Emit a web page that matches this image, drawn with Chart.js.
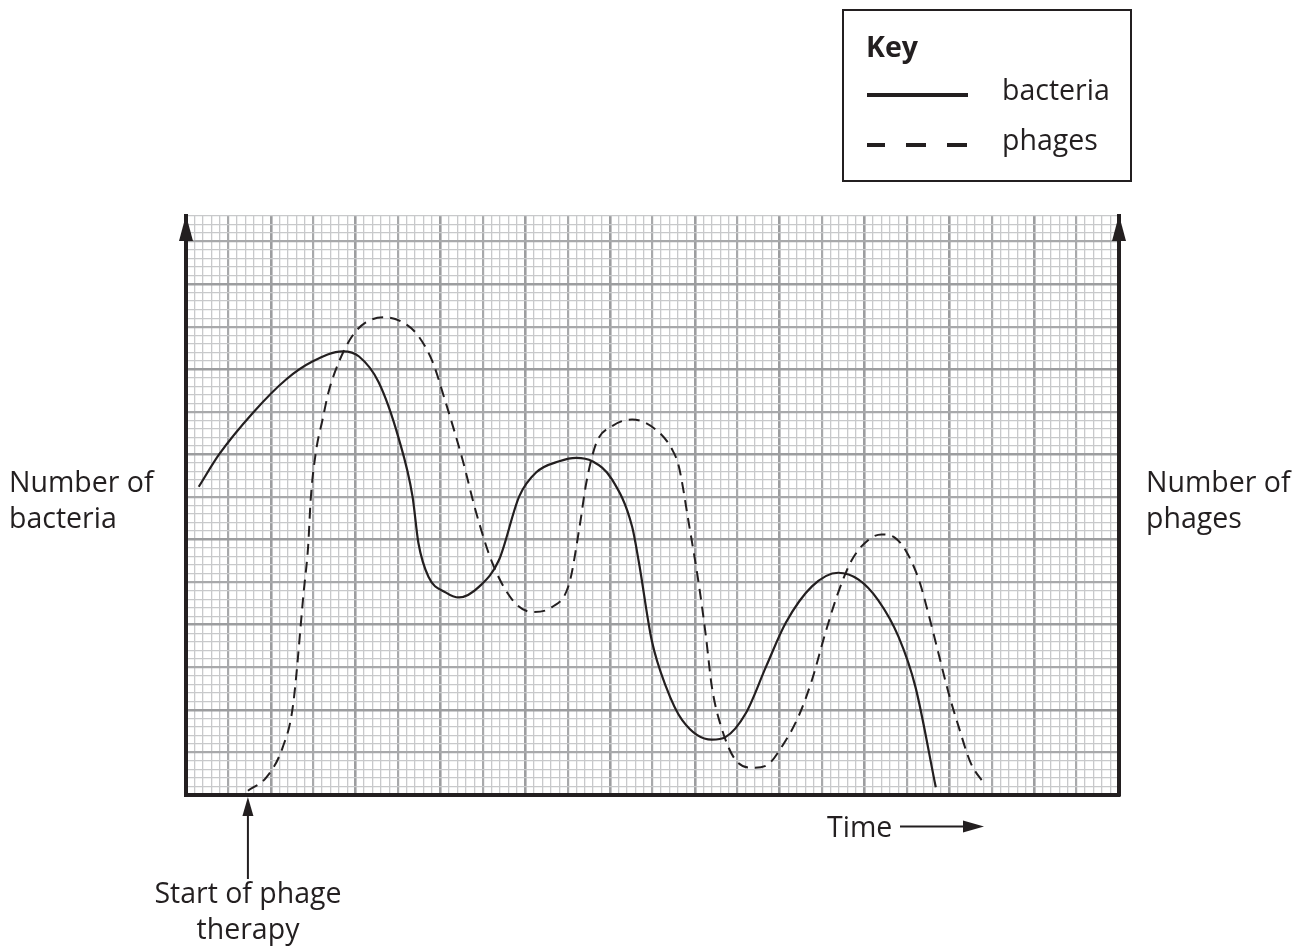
<!DOCTYPE html>
<html>
<head>
<meta charset="utf-8">
<script src="https://cdn.jsdelivr.net/npm/chart.js@4.4.0/dist/chart.umd.min.js"></script>
<style>
  body { margin: 0; background: #fff; }
  #page { position: relative; width: 1294px; height: 948px; font-family: "Open Sans", sans-serif; color: #231f20; }
  .lbl { position: absolute; font-size: 28.5px; line-height: 36px; white-space: nowrap; }
  #key { position: absolute; left: 842px; top: 9px; width: 286px; height: 169px; border: 2px solid #231f20; }
  .sample { position: absolute; height: 4px; background: #231f20; }
</style>
</head>
<body>
<div id="page">
  <canvas id="phageChart" width="1294" height="948"></canvas>

  <div class="lbl" style="left:9px; top:463px;">Number of<br>bacteria</div>
  <div class="lbl" style="left:1146px; top:463px;">Number of<br>phages</div>
  <div class="lbl" style="left:827px; top:808px;">Time</div>
  <div class="lbl" style="left:128px; top:874px; width:240px; text-align:center;">Start of phage<br>therapy</div>

  <div id="key">
    <div class="lbl" style="left:22px; top:17px; font-weight:bold;">Key</div>
    <div class="sample" style="left:23px; top:82px; width:101px;"></div>
    <div class="lbl" style="left:158px; top:60px;">bacteria</div>
    <div class="sample" style="left:23px; top:132px; width:18px;"></div>
    <div class="sample" style="left:62px; top:132px; width:20px;"></div>
    <div class="sample" style="left:103px; top:132px; width:20px;"></div>
    <div class="lbl" style="left:158px; top:110px;">phages</div>
  </div>
</div>

<script>
  // Values (1 unit = one small square)
  const timeBacteria = [1.5, 3.9, 7.9, 11.8, 14.9, 18.5, 20.4, 22.7, 25.1, 26.7, 27.4, 28.6, 30.6, 32.2, 34.6, 36.9, 39.3, 41.3, 44.0, 46.0, 47.9, 50.2, 52.6, 53.4, 54.9, 56.6, 58.5, 62.0, 63.6, 66.0, 68.4, 70.7, 73.8, 76.9, 79.3, 81.6, 84.0, 86.0, 88.4];
  const bacteria = [36.2, 40.0, 44.9, 48.8, 50.9, 52.1, 51.5, 48.5, 41.8, 35.1, 29.6, 25.6, 23.8, 23.2, 24.5, 27.6, 35.1, 37.9, 39.2, 39.6, 39.2, 37.1, 31.5, 27.3, 18.2, 12.7, 8.8, 6.5, 6.8, 9.6, 15.1, 20.2, 24.5, 26.1, 25.3, 22.9, 18.6, 12.7, 0.9];

  const timePhages = [7.3, 9.5, 11.4, 12.6, 13.9, 14.4, 14.7, 15.3, 16.1, 16.8, 18.0, 19.6, 21.2, 23.5, 25.9, 27.4, 29.1, 30.4, 32.6, 34.2, 36.1, 38.5, 40.8, 43.2, 45.2, 46.4, 47.2, 48.4, 50.2, 52.6, 55.4, 57.3, 58.1, 59.3, 60.5, 61.3, 62.0, 63.1, 64.8, 66.9, 68.5, 70.2, 72.2, 73.8, 75.4, 76.9, 78.5, 80.5, 82.0, 83.6, 84.8, 86.4, 87.5, 88.7, 89.9, 91.1, 92.5, 94.2];
  const phages = [0.5, 2.1, 5.6, 10.4, 24.1, 29.2, 34.7, 40.2, 44.1, 47.3, 50.8, 53.9, 55.5, 56.1, 55.3, 53.9, 50.8, 46.8, 39.4, 33.2, 27.3, 22.9, 21.5, 22.1, 24.9, 31.5, 36.7, 41.4, 43.3, 44.1, 42.9, 40.6, 38.6, 31.8, 24.5, 18.6, 12.7, 8.0, 4.1, 3.2, 3.5, 5.6, 9.2, 13.5, 19.1, 23.8, 27.6, 30.0, 30.6, 30.2, 28.8, 25.3, 21.4, 16.7, 12.0, 8.0, 3.8, 1.2];

  const ink = "#231f20";

  // graph paper: light small squares, darker every 5 and 10
  const paperColor = (ctx) => {
    const v = ctx.tick ? Math.round(ctx.tick.value) : 1;
    if (v % 10 === 0) return "#9c9d9f";
    if (v % 5 === 0) return "#a8a9ab";
    return "#c8c9cb";
  };
  const paperWidth = (ctx) => {
    const v = ctx.tick ? Math.round(ctx.tick.value) : 1;
    if (v % 10 === 0) return 2.6;
    if (v % 5 === 0) return 2.2;
    return 1.3;
  };

  const paperAxis = (max, border) => ({
    type: "linear",
    min: 0,
    max: max,
    ticks: { display: false, stepSize: 1, maxTicksLimit: 500 },
    grid: { color: paperColor, lineWidth: paperWidth, drawTicks: false },
    border: border,
  });

  // axis arrows and the annotation arrows
  const arrows = {
    id: "arrows",
    afterDraw(chart) {
      const { ctx, chartArea } = chart;
      const { left, right, top, bottom } = chartArea;
      const head = (x, y, w, h) => {
        ctx.beginPath();
        ctx.moveTo(x, y);
        ctx.lineTo(x - w, y + h);
        ctx.lineTo(x + w, y + h);
        ctx.closePath();
        ctx.fill();
      };
      ctx.save();
      ctx.fillStyle = ink;
      ctx.strokeStyle = ink;
      head(left, top - 1, 7, 26);
      head(right, top - 1, 7, 26);

      // start of phage therapy
      const sx = chart.scales.x.getPixelForValue(timePhages[0]);
      head(sx, bottom + 2, 5.5, 19);
      ctx.lineWidth = 2;
      ctx.beginPath();
      ctx.moveTo(sx, bottom + 18);
      ctx.lineTo(sx, bottom + 84);
      ctx.stroke();

      // time arrow
      ctx.beginPath();
      ctx.moveTo(900, 826.5);
      ctx.lineTo(966, 826.5);
      ctx.stroke();
      ctx.beginPath();
      ctx.moveTo(984, 826.5);
      ctx.lineTo(963, 820.5);
      ctx.lineTo(963, 832.5);
      ctx.closePath();
      ctx.fill();
      ctx.restore();
    },
  };

  new Chart(document.getElementById("phageChart"), {
    type: "line",
    data: {
      datasets: [
        {
          label: "bacteria",
          data: timeBacteria.map((t, i) => ({ x: t, y: bacteria[i] })),
          borderColor: ink,
          borderWidth: 2.2,
          pointRadius: 0,
          cubicInterpolationMode: "monotone",
        },
        {
          label: "phages",
          data: timePhages.map((t, i) => ({ x: t, y: phages[i] })),
          borderColor: ink,
          borderWidth: 2,
          borderDash: [11, 7],
          pointRadius: 0,
          cubicInterpolationMode: "monotone",
        },
      ],
    },
    options: {
      responsive: false,
      animation: false,
      events: [],
      layout: { padding: { left: 186, top: 216, right: 175, bottom: 153 } },
      plugins: { legend: { display: false }, tooltip: { enabled: false } },
      scales: {
        x: paperAxis(110, { display: true, color: ink, width: 4 }),
        y: paperAxis(68, { display: true, color: ink, width: 4 }),
        y2: {
          type: "linear",
          position: "right",
          min: 0,
          max: 68,
          ticks: { display: false },
          grid: { display: false, drawTicks: false },
          border: { display: true, color: ink, width: 4 },
        },
      },
    },
    plugins: [arrows],
  });
</script>
</body>
</html>
